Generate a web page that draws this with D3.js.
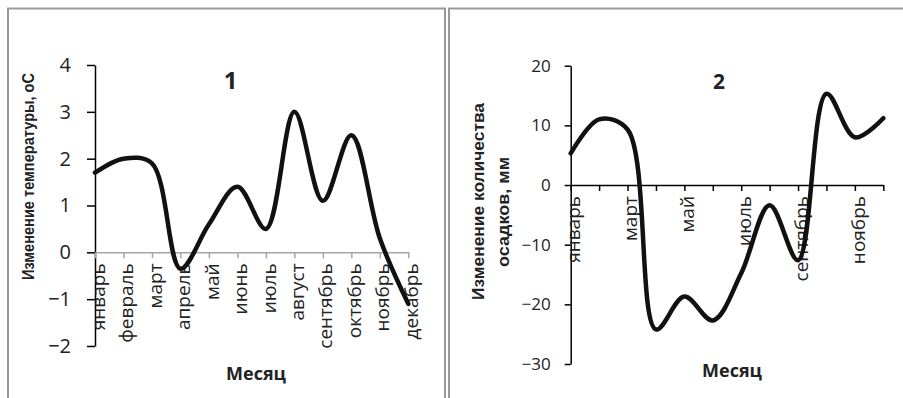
<!DOCTYPE html>
<html>
<head>
<meta charset="utf-8">
<script src="https://cdn.jsdelivr.net/npm/d3@7"></script>
<style>
  body { margin: 0; background: #fff; }
  svg { display: block; }
</style>
</head>
<body>
<div id="chart"></div>
<script>
// monthly changes: temperature (panel 1) and precipitation (panel 2)
const months = ["январь", "февраль", "март", "апрель", "май", "июнь",
  "июль", "август", "сентябрь", "октябрь", "ноябрь", "декабрь"];
const tempChange = [1.7, 2.0, 1.9, -0.35, 0.6, 1.4, 0.5, 3.0, 1.1, 2.5, 0.3, -1.1];
const precipChange = [5.3, 11, 9.3, -24.2, -18.7, -22.7, -14.8, -3.4, -12.6, 15.3, 8.0, 11.2];
const tempTicks = [-2, -1, 0, 1, 2, 3, 4];
const precipTicks = [-30, -20, -10, 0, 10, 20];

const W = 903, H = 398;
const svg = d3.select("#chart").append("svg").attr("width", W).attr("height", H);

const tickFont = "'Open Sans', sans-serif";
const titleFont = "'Liberation Sans', Arial, sans-serif";

// panel frames
svg.append("rect").attr("x", 8).attr("y", 8.5).attr("width", 437).attr("height", 400)
  .attr("fill", "none").attr("stroke", "#9a9a9a").attr("stroke-width", 2);
svg.append("path").attr("d", "M449,410V8.5H903")
  .attr("fill", "none").attr("stroke", "#9a9a9a").attr("stroke-width", 2);

function drawPanel(opt) {
  const g = svg.append("g");
  const x = d3.scalePoint().domain(months).range(opt.xRange);
  const y = d3.scaleLinear().domain(opt.yDomain).range(opt.yRange);

  // y axis
  const yAxis = g.append("g")
    .attr("transform", `translate(${opt.xRange[0]},0)`)
    .call(d3.axisLeft(y).tickValues(opt.yTicks).tickFormat(d3.format("d"))
      .tickSize(opt.yTickLen).tickPadding(opt.yPad).tickSizeOuter(0));
  yAxis.select(".domain").attr("stroke", "#000").attr("stroke-width", 1.5);
  yAxis.selectAll(".tick line").attr("stroke", "#000").attr("stroke-width", 1.5);
  yAxis.selectAll("text").attr("font-family", tickFont).attr("font-size", opt.yFont).attr("fill", "#222");

  // x axis at zero
  const xAxis = g.append("g")
    .attr("transform", `translate(0,${y(0)})`)
    .call(d3.axisBottom(x).tickSize(6).tickSizeOuter(0)
      .tickFormat((d, i) => (i % opt.labelEvery === 0 ? d : "")));
  xAxis.select(".domain").attr("stroke", opt.xColor).attr("stroke-width", 1.5);
  xAxis.selectAll(".tick line").attr("stroke", opt.xColor).attr("stroke-width", 1.5);
  xAxis.selectAll("text")
    .attr("font-family", tickFont).attr("font-size", 19).attr("fill", "#222")
    .attr("text-anchor", "end")
    .attr("transform", "rotate(-90)")
    .attr("x", -11).attr("y", 0).attr("dy", "0.48em");

  // smoothed series line
  const line = d3.line()
    .x((d, i) => x(months[i]))
    .y(d => y(d))
    .curve(d3.curveCatmullRom.alpha(0.5));
  g.append("path").datum(opt.values)
    .attr("d", line)
    .attr("fill", "none").attr("stroke", "#111").attr("stroke-width", 4.5)
    .attr("stroke-linejoin", "round").attr("stroke-linecap", "round");

  // panel number
  g.append("text").attr("x", opt.numX).attr("y", 89)
    .attr("text-anchor", "middle").attr("font-family", tickFont)
    .attr("font-weight", "bold").attr("font-size", opt.numFont).attr("fill", "#222")
    .text(opt.num);

  // x title
  g.append("text").attr("x", opt.monthX).attr("y", opt.monthY)
    .attr("text-anchor", "middle").attr("font-family", tickFont)
    .attr("font-weight", "bold").attr("font-size", 18).attr("fill", "#222")
    .text("Месяц");

  // y title (one text per line)
  opt.yTitle.forEach((t, i) => {
    g.append("text")
      .attr("transform", `translate(${opt.yTitleX[i]},${opt.yTitleY[i]}) rotate(-90)`)
      .attr("text-anchor", "middle").attr("font-family", titleFont)
      .attr("font-weight", "bold").attr("font-size", 16.5).attr("fill", "#222")
      .attr("textLength", opt.yTitleLen[i]).attr("lengthAdjust", "spacingAndGlyphs")
      .text(t);
  });
}

drawPanel({
  values: tempChange, yDomain: [-2, 4], yRange: [346, 65], yTicks: tempTicks,
  xRange: [95, 408.3], xColor: "#a6a6a6", labelEvery: 1,
  yFont: 20, yTickLen: 8, yPad: 16,
  num: "1", numX: 230.5, numFont: 24, monthX: 256, monthY: 380,
  yTitle: ["Изменение температуры, оС"], yTitleX: [33.5], yTitleY: [176.5], yTitleLen: [207]
});

drawPanel({
  values: precipChange, yDomain: [-30, 20], yRange: [364, 65.7], yTicks: precipTicks,
  xRange: [570.7, 883.3], xColor: "#000", labelEvery: 2,
  yFont: 17, yTickLen: 6, yPad: 14,
  num: "2", numX: 719, numFont: 21, monthX: 732, monthY: 377,
  yTitle: ["Изменение количества", "осадков, мм"], yTitleX: [483.5, 508.5],
  yTitleY: [201.5, 212], yTitleLen: [197, 110]
});
</script>
</body>
</html>
